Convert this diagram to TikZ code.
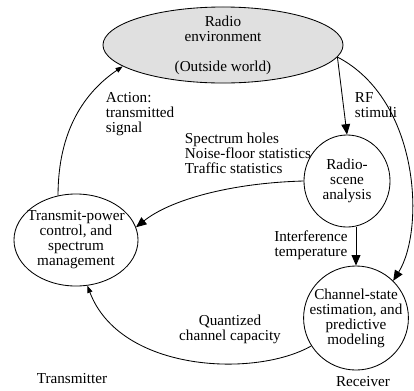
\documentclass[tikz,border=0pt]{standalone}
\usepackage{fontspec}
\setmainfont{Liberation Serif}
\usepackage{tikz}
\usetikzlibrary{arrows.meta,shapes.geometric}
\usepackage{xcolor}
\definecolor{envgray}{RGB}{224,224,224}
\tikzset{>=Triangle}

\begin{document}
\begin{tikzpicture}[x=0.025cm,y=-0.025cm,
  every node/.style={font=\fontsize{10.8}{10.7}\selectfont, align=center},
  bubble/.style={draw, ellipse, inner sep=0pt, line width=0.6pt},
  link/.style={line width=0.6pt},
  bigtip/.style={-{Triangle[length=2.6mm,width=2.2mm]}},
  smalltip/.style={-{Triangle[length=1.8mm,width=1.3mm]}}]
\useasboundingbox (0,0) rectangle (414,390);

% the four blocks of the cycle
\node[bubble, fill=envgray, minimum width=6cm, minimum height=1.9cm] (env) at (223,45) {};
\node[bubble, minimum width=2.15cm, minimum height=2.3cm] (scene) at (347,181) {};
\node[bubble, minimum width=3.1cm, minimum height=2.3cm] (txctl) at (76,240) {};
\node[bubble, minimum width=2.62cm, minimum height=2.6cm] (chanest) at (356,318) {};

\node (envtext) at (env) {Radio\\environment\\\mbox{}\\(Outside world)};
\node (scenetext) at (scene) {Radio-\\scene\\analysis};
\node (txctltext) at (txctl) {Transmit-power\\control, and\\spectrum\\management};
\node (chanesttext) at (chanest) {Channel-state\\estimation, and\\predictive\\modeling};

% connectors
\draw[link, bigtip] (env.-6) -- (scene.north);
\draw[link, bigtip] (env.-6) .. controls (420,100) and (425,230) .. (chanest.45);
\draw[link, bigtip] (scene.west) .. controls (230,183) and (170,200) .. (txctl.12);
\draw[link, bigtip] (scene.south -| chanest.north) -- (chanest.north);
\draw[link, smalltip] (chanest.212) .. controls (255,378) and (120,372) .. (txctl.284);
\draw[link, smalltip] (txctl.112) .. controls (58,130) and (85,92) .. (env.192);

% labels on the links
\node[anchor=west, align=left] (action) at (101,114) {Action:\\transmitted\\signal};
\node[anchor=west, align=left] (rf) at (350,105) {RF\\stimuli};
\node[anchor=west, align=left] (stats) at (180,153) {Spectrum holes\\Noise-floor statistics\\Traffic statistics};
\node (interf) at (311,245) {Interference\\temperature};
\node (capacity) at (230,329) {Quantized\\channel capacity};

\node (tx) at (72,379) {Transmitter};
\node (rx) at (363,382) {Receiver};
\end{tikzpicture}
\end{document}
